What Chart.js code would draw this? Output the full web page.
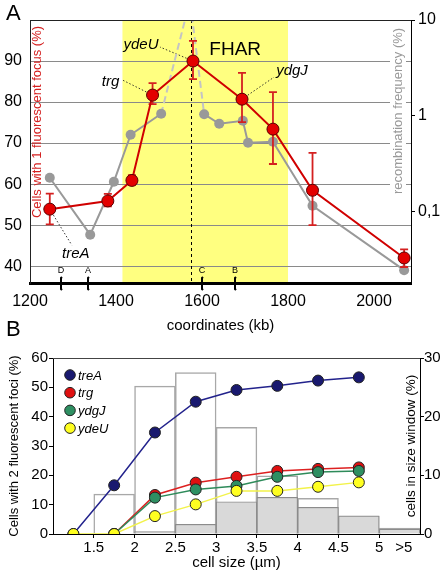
<!DOCTYPE html>
<html>
<head>
<meta charset="utf-8">
<script src="https://cdn.jsdelivr.net/npm/chart.js@4.4.0/dist/chart.umd.min.js"></script>
<style>
  body { margin:0; background:#fff; width:442px; height:575px; overflow:hidden; position:relative; font-family: Arial, "Liberation Sans", sans-serif; }
  #chartA { position:absolute; left:0; top:0; }
  #chartB { position:absolute; left:0; top:340px; }
  .panel { position:absolute; font-size:22px; line-height:22px; color:#000; }
</style>
</head>
<body>
<canvas id="chartA" width="442" height="340"></canvas>
<canvas id="chartB" width="442" height="235"></canvas>
<div class="panel" style="left:6px;top:2px">A</div>
<div class="panel" style="left:6px;top:318px">B</div>
<script>
// ---- panel A data ----
const focusKb   = [1246, 1381, 1437, 1485, 1579, 1693, 1765, 1857, 2070];
const focusPct  = [53.9, 55.9, 60.9, 81.7, 90.0, 80.7, 73.4, 58.5, 42.0];
const focusLow  = [50.2, 54.6, 59.8, 79.5, 85.6, 75.1, 64.9, 50.0, 39.8];
const focusHigh = [57.7, 57.6, 62.2, 84.6, 94.9, 87.1, 82.4, 67.6, 44.1];
const recombKb  = [1246, 1340, 1395, 1434, 1505, 1572, 1605, 1640, 1695, 1707, 1765, 1857, 2070];
const recombPct = [0.226, 0.0575, 0.205, 0.634, 1.05, 16, 1.04, 0.826, 0.887, 0.524, 0.537, 0.115, 0.0245];
const geneNames = ['treA', 'trg', 'ydeU', 'ydgJ'];
const genePoint = [0, 3, 4, 5];
const fharKb = [1415, 1800];
const centerKb = 1575;
const siteNames = ['D', 'A', 'C', 'B'];
const siteKb = [1272, 1334, 1601, 1677];
const coordTicks = [1200, 1400, 1600, 1800, 2000];
const focusTicks = [40, 50, 60, 70, 80, 90];
const recombTicks = [0.1, 1, 10];

// ---- panel B data ----
const sizeMid = [1.25, 1.75, 2.25, 2.75, 3.25, 3.75, 4.25, 4.75];
const treA = [0, 16.6, 34.6, 45.1, 49.1, 50.5, 52.3, 53.4];
const trg  = [null, 0, 13.3, 17.5, 19.5, 21.5, 22.2, 22.7];
const ydgJ = [null, 0, 12.4, 15.2, 16.4, 19.5, 21.1, 21.5];
const ydeU = [0, 0, 6.1, 10.1, 14.7, 14.7, 16.1, 17.6];
const binMid = [1.75, 2.25, 2.75, 3.25, 3.75, 4.25, 4.75, 5.25];
const allCellsPct  = [6.8, 25.2, 27.5, 18.2, 9.9, 6.1, 3.1, 1.0];
const twoFociPct   = [0, 0.4, 1.65, 5.5, 6.25, 4.55, 3.07, 0.85];
const sizeTicks = [1.5, 2, 2.5, 3, 3.5, 4, 4.5, 5];
const overflowLabel = '>5';
const overflowAt = 5.3;
const footTicks = [0, 10, 20, 30, 40, 50, 60];
const windowTicks = [0, 10, 20, 30];

Chart.defaults.font.family = 'Arial, "Liberation Sans", Helvetica, sans-serif';
Chart.defaults.color = '#000';

const pts = (xs, ys) => xs.map((x, i) => ({x: x, y: ys[i]}));
const setTicks = list => s => { s.ticks = list.map(v => ({value: v})); };

function vText(ctx, text, x, y, font, color, bg) {
  ctx.save();
  ctx.translate(x, y);
  ctx.rotate(-Math.PI / 2);
  ctx.font = font;
  ctx.textAlign = 'center';
  ctx.textBaseline = 'middle';
  if (bg) {
    const w = ctx.measureText(text).width;
    ctx.fillStyle = bg;
    ctx.fillRect(-w / 2 - 3, -8, w + 6, 16);
  }
  ctx.fillStyle = color;
  ctx.fillText(text, 0, 0);
  ctx.restore();
}

// label placement: label centre and leader end, relative to the point
const labelPos = {
  treA: {dx: 26, dy: 45, lx: 22, ly: 36},
  trg:  {dx: -42, dy: -13, lx: -30, ly: -15},
  ydeU: {dx: -52, dy: -16, lx: -33, ly: -14},
  ydgJ: {dx: 50, dy: -28, lx: 32, ly: -22}
};

const peakIdx = recombPct.indexOf(Math.max(...recombPct));
const nearPeak = c => c.p0DataIndex === peakIdx || c.p1DataIndex === peakIdx;

const panelAExtras = {
  id: 'panelAExtras',
  beforeDraw(chart) {
    const {ctx, chartArea: a, scales: {x}} = chart;
    const x0 = x.getPixelForValue(fharKb[0]), x1 = x.getPixelForValue(fharKb[1]);
    ctx.save();
    ctx.fillStyle = '#ffff80';
    ctx.fillRect(x0, a.top, x1 - x0, a.bottom - a.top);
    ctx.restore();
  },
  beforeDatasetsDraw(chart) {
    const {ctx, chartArea: a, scales: {x}} = chart;
    ctx.save();
    const xc = Math.round(x.getPixelForValue(centerKb)) + 0.5;
    ctx.strokeStyle = '#000';
    ctx.lineWidth = 1;
    ctx.setLineDash([3, 3]);
    ctx.beginPath();
    ctx.moveTo(xc, a.top);
    ctx.lineTo(xc, a.bottom);
    ctx.stroke();
    // leaders
    const meta = chart.getDatasetMeta(0);
    ctx.setLineDash([1.5, 2]);
    ctx.lineWidth = 0.9;
    ctx.strokeStyle = '#222';
    geneNames.forEach((g, i) => {
      const p = meta.data[genePoint[i]];
      const o = labelPos[g];
      ctx.beginPath();
      ctx.moveTo(p.x, p.y);
      ctx.lineTo(p.x + o.lx, p.y + o.ly);
      ctx.stroke();
    });
    ctx.restore();
  },
  afterDatasetDraw(chart, args) {
    if (args.index !== 1) return;
    const {ctx, scales: {x, y}} = chart;
    ctx.save();
    ctx.strokeStyle = '#d42020';
    ctx.lineWidth = 1.8;
    focusKb.forEach((k, i) => {
      const px = x.getPixelForValue(k);
      const yl = y.getPixelForValue(focusLow[i]), yh = y.getPixelForValue(focusHigh[i]);
      ctx.beginPath();
      ctx.moveTo(px, yl); ctx.lineTo(px, yh);
      ctx.moveTo(px - 4, yl); ctx.lineTo(px + 4, yl);
      ctx.moveTo(px - 4, yh); ctx.lineTo(px + 4, yh);
      ctx.stroke();
    });
    ctx.restore();
  },
  afterDraw(chart) {
    const {ctx, chartArea: a, scales: {x}} = chart;
    ctx.save();
    // top frame
    ctx.strokeStyle = '#222';
    ctx.lineWidth = 1;
    ctx.beginPath();
    ctx.moveTo(a.left, a.top + 0.5);
    ctx.lineTo(a.right, a.top + 0.5);
    ctx.stroke();
    // gene labels
    const meta = chart.getDatasetMeta(0);
    ctx.font = 'italic 15px Arial, "Liberation Sans", sans-serif';
    ctx.fillStyle = '#000';
    ctx.textAlign = 'center';
    ctx.textBaseline = 'middle';
    geneNames.forEach((g, i) => {
      const p = meta.data[genePoint[i]];
      const o = labelPos[g];
      ctx.fillText(g, p.x + o.dx, p.y + o.dy);
    });
    // FHAR
    ctx.font = '19px Arial, "Liberation Sans", sans-serif';
    ctx.fillText('FHAR', (x.getPixelForValue(fharKb[0]) + x.getPixelForValue(fharKb[1])) / 2 + 30, a.top + 30);
    // sites on the axis
    ctx.font = '9px Arial, "Liberation Sans", sans-serif';
    ctx.lineWidth = 2;
    ctx.strokeStyle = '#000';
    siteKb.forEach((k, i) => {
      const px = Math.round(x.getPixelForValue(k));
      ctx.beginPath();
      ctx.moveTo(px + 1, a.bottom - 6);
      ctx.lineTo(px, a.bottom - 5);
      ctx.lineTo(px, a.bottom + 6);
      ctx.lineTo(px + 1, a.bottom + 7);
      ctx.stroke();
      ctx.fillText(siteNames[i], px, a.bottom - 12);
    });
    ctx.restore();
    vText(ctx, 'Cells with 1 fluorescent focus (%)', a.left + 7, a.top + 102, '13px Arial, "Liberation Sans", sans-serif', '#d42020');
    vText(ctx, 'recombination frequency (%)', a.right - 13, a.top + 91, '13px Arial, "Liberation Sans", sans-serif', '#999', '#fff');
  }
};

new Chart(document.getElementById('chartA'), {
  type: 'line',
  data: {
    datasets: [
      {
        label: 'Cells with 1 fluorescent focus',
        data: pts(focusKb, focusPct),
        yAxisID: 'y',
        borderColor: '#d00000',
        backgroundColor: '#e30000',
        pointBorderColor: '#5a0000',
        pointBorderWidth: 1,
        pointRadius: 6,
        borderWidth: 2,
        order: 0
      },
      {
        label: 'recombination frequency',
        data: pts(recombKb, recombPct),
        yAxisID: 'y2',
        borderColor: '#999',
        backgroundColor: '#999',
        pointBorderWidth: 0,
        pointRadius: 5,
        borderWidth: 2,
        order: 1,
        segment: {
          borderColor: c => nearPeak(c) ? '#c4c4c4' : undefined,
          borderDash: c => nearPeak(c) ? [7, 4] : undefined
        }
      }
    ]
  },
  options: {
    responsive: false,
    animation: false,
    layout: {padding: {top: 20, left: 0, right: 0, bottom: 0}},
    plugins: {legend: {display: false}, tooltip: {enabled: false}},
    scales: {
      x: {
        type: 'linear', min: 1200, max: 2086,
        afterBuildTicks: setTicks(coordTicks),
        grid: {display: false},
        border: {color: '#000', width: 3},
        ticks: {font: {size: 16}, padding: 1, color: '#000', callback: v => String(v)},
        title: {display: true, text: 'coordinates (kb)', font: {size: 15}, padding: {top: 0, bottom: 5}},
        afterFit: s => { s.height = 57; }
      },
      y: {
        position: 'left', min: 35.9, max: 100,
        afterBuildTicks: setTicks(focusTicks),
        grid: {color: '#8a8a8a', drawTicks: false},
        border: {color: '#222', width: 1},
        ticks: {font: {size: 16}, padding: 8, color: '#000'},
        afterFit: s => { s.width = 30; }
      },
      y2: {
        type: 'logarithmic', position: 'right', min: 0.018, max: 10,
        afterBuildTicks: setTicks(recombTicks),
        grid: {drawOnChartArea: false, tickLength: 4, color: '#000'},
        border: {color: '#000', width: 1},
        ticks: {font: {size: 16}, padding: 3, color: '#000', callback: v => v === 0.1 ? '0,1' : String(v)},
        afterFit: s => { s.width = 31; }
      }
    }
  },
  plugins: [panelAExtras]
});

// ---- panel B ----
const panelBExtras = {
  id: 'panelBExtras',
  afterDraw(chart) {
    const {ctx, chartArea: a, scales: {x}} = chart;
    ctx.save();
    ctx.strokeStyle = '#444';
    ctx.lineWidth = 1;
    ctx.beginPath();
    ctx.moveTo(a.left, a.top + 0.5);
    ctx.lineTo(a.right, a.top + 0.5);
    ctx.stroke();
    // label of the open-ended last size class
    ctx.font = '15px Arial, "Liberation Sans", sans-serif';
    ctx.fillStyle = '#000';
    ctx.textAlign = 'center';
    ctx.textBaseline = 'middle';
    ctx.fillText(overflowLabel, x.getPixelForValue(overflowAt), a.bottom + 14);
    // legend for the four loci
    ctx.font = 'italic 13px Arial, "Liberation Sans", sans-serif';
    ctx.textAlign = 'left';
    chart.data.datasets.filter(d => d.type === 'line').forEach((d, i) => {
      const cx = a.left + 17, cy = a.top + 17 + i * 17.7;
      ctx.beginPath();
      ctx.arc(cx, cy, 5.3, 0, Math.PI * 2);
      ctx.fillStyle = d.backgroundColor;
      ctx.fill();
      ctx.lineWidth = 1;
      ctx.strokeStyle = '#222';
      ctx.stroke();
      ctx.fillStyle = '#000';
      ctx.fillText(d.label, cx + 8, cy + 1);
    });
    ctx.restore();
    vText(ctx, 'cells in size window (%)', a.right - 9, (a.top + a.bottom) / 2, '13.5px Arial, "Liberation Sans", sans-serif', '#000');
  }
};

const lineSet = (label, vals, line, fill, order) => ({
  type: 'line',
  label: label,
  data: pts(sizeMid, vals),
  yAxisID: 'y',
  borderColor: line,
  backgroundColor: fill,
  pointBorderColor: '#222',
  pointBorderWidth: 1,
  pointRadius: 5.5,
  borderWidth: 1.5,
  order: order
});

new Chart(document.getElementById('chartB'), {
  type: 'line',
  data: {
    datasets: [
      lineSet('treA', treA, '#22228c', '#19196f', 3),
      lineSet('trg', trg, '#dd2020', '#e01010', 2),
      lineSet('ydgJ', ydgJ, '#2e8b5a', '#2e8f62', 1),
      lineSet('ydeU', ydeU, '#f2f24a', '#ffff20', 0),
      {
        type: 'bar', label: 'cells with 2 foci', data: pts(binMid, twoFociPct), yAxisID: 'y2',
        backgroundColor: '#d9d9d9', borderColor: '#8c8c8c', borderWidth: 1.2,
        barPercentage: 1, categoryPercentage: 1, grouped: false, order: 4
      },
      {
        type: 'bar', label: 'all cells', data: pts(binMid, allCellsPct), yAxisID: 'y2',
        backgroundColor: '#fff', borderColor: '#a8a8a8', borderWidth: 1.5,
        barPercentage: 1, categoryPercentage: 1, grouped: false, order: 5
      }
    ]
  },
  options: {
    responsive: false,
    animation: false,
    layout: {padding: {top: 18, left: 0, right: 0, bottom: 0}},
    plugins: {legend: {display: false}, tooltip: {enabled: false}},
    scales: {
      x: {
        type: 'linear', min: 1, max: 5.5, offset: false,
        afterBuildTicks: setTicks(sizeTicks),
        grid: {drawOnChartArea: false, tickLength: 4, color: '#000', offset: false},
        border: {color: '#000', width: 1},
        ticks: {font: {size: 15}, padding: 1, color: '#000', callback: v => String(v)},
        title: {display: true, text: 'cell size (µm)', font: {size: 15}, padding: {top: 0, bottom: 3}},
        afterFit: s => { s.height = 41; }
      },
      y: {
        position: 'left', min: 0, max: 60,
        afterBuildTicks: setTicks(footTicks),
        grid: {drawOnChartArea: false, tickLength: 4, color: '#000'},
        border: {color: '#000', width: 1},
        ticks: {font: {size: 15}, padding: 1, color: '#000'},
        title: {display: true, text: 'Cells with 2 fluorescent foci (%)', font: {size: 13}, padding: {top: 7, bottom: 0}},
        afterFit: s => { s.width = 53; }
      },
      y2: {
        position: 'right', min: 0, max: 30,
        afterBuildTicks: setTicks(windowTicks),
        grid: {drawOnChartArea: false, tickLength: 4, color: '#000'},
        border: {color: '#000', width: 1},
        ticks: {font: {size: 15}, padding: 0, color: '#000'},
        afterFit: s => { s.width = 22; }
      }
    }
  },
  plugins: [panelBExtras]
});
</script>
</body>
</html>
